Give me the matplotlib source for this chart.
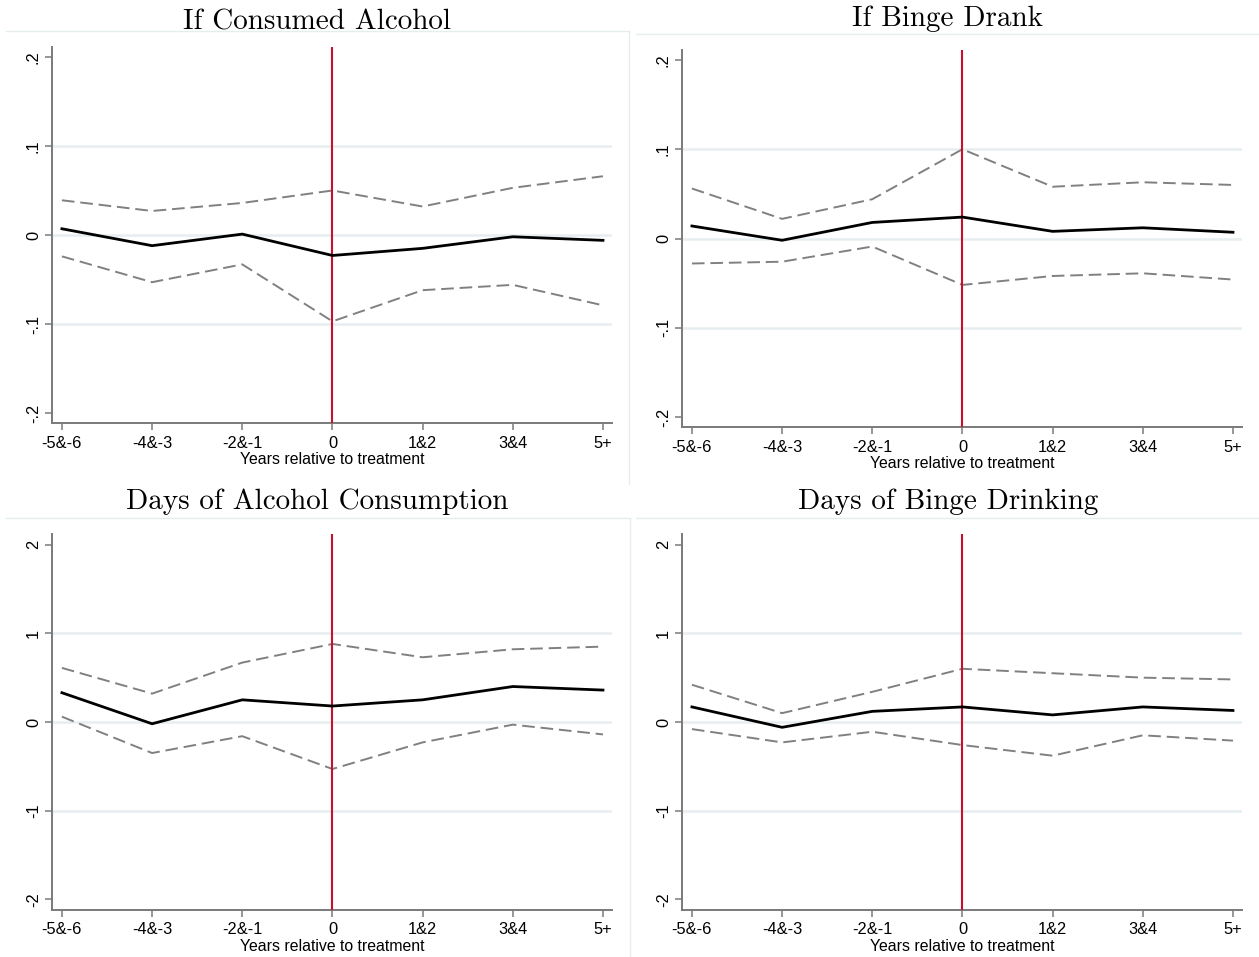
import matplotlib
matplotlib.use("Agg")
import matplotlib.pyplot as plt
from matplotlib.lines import Line2D
import numpy as np

W, H = 1259, 957

periods = ['-5&-6', '-4&-3', '-2&-1', '0', '1&2', '3&4', '5+']

# If Consumed Alcohol
cons_est = [0.007, -0.012, 0.001, -0.023, -0.015, -0.002, -0.006]
cons_hi = [0.039, 0.027, 0.036, 0.050, 0.032, 0.053, 0.066]
cons_lo = [-0.024, -0.053, -0.033, -0.097, -0.062, -0.056, -0.079]

# If Binge Drank
binge_est = [0.014, -0.002, 0.018, 0.024, 0.008, 0.012, 0.007]
binge_hi = [0.056, 0.022, 0.044, 0.100, 0.058, 0.063, 0.060]
binge_lo = [-0.028, -0.026, -0.009, -0.052, -0.042, -0.039, -0.046]

# Days of Alcohol Consumption
days_est = [0.33, -0.02, 0.25, 0.18, 0.25, 0.40, 0.36]
days_hi = [0.61, 0.32, 0.67, 0.88, 0.73, 0.82, 0.85]
days_lo = [0.06, -0.35, -0.16, -0.53, -0.23, -0.03, -0.14]

# Days of Binge Drinking
dbinge_est = [0.17, -0.06, 0.12, 0.17, 0.08, 0.17, 0.13]
dbinge_hi = [0.42, 0.10, 0.34, 0.60, 0.55, 0.50, 0.48]
dbinge_lo = [-0.08, -0.23, -0.11, -0.26, -0.38, -0.15, -0.21]

small_ticks = [-0.2, -0.1, 0, 0.1, 0.2]
small_labels = ['-.2', '-.1', '0', '.1', '.2']
big_ticks = [-2, -1, 0, 1, 2]
big_labels = ['-2', '-1', '0', '1', '2']

GRID = '#e6eef0'
SPINE = '#7a7a7a'
RED = '#c8102e'
BORDER = '#e6edef'

plt.rcParams['font.family'] = ['Liberation Sans', 'DejaVu Sans']

fig = plt.figure(figsize=(W / 100, H / 100), dpi=100)


def px_axes(left, top, right, bottom):
    return fig.add_axes([left / W, 1 - bottom / H, (right - left) / W, (bottom - top) / H])


def panel(box, title, title_xy, est, hi, lo, ticks, labels, ylim):
    ax = px_axes(*box)
    x = np.arange(len(periods))
    for t in ticks:
        if t not in (ticks[0], ticks[-1]):
            ax.axhline(t, color=GRID, lw=1.8, zorder=0)
    ax.axvline(3, color=RED, lw=1.5, zorder=3)
    ax.plot(x, hi, color='#808080', lw=1.4, dashes=(6.5, 3), zorder=2)
    ax.plot(x, lo, color='#808080', lw=1.4, dashes=(6.5, 3), zorder=2)
    ax.plot(x, est, color='black', lw=2.0, zorder=4)
    ax.set_xlim(-0.11, 6.10)
    ax.set_ylim(*ylim)
    ax.set_xticks(x, labels=periods, fontsize=11.8)
    ax.set_yticks(ticks, labels=labels, fontsize=11.8)
    for lab in ax.get_yticklabels():
        lab.set_rotation(90)
        lab.set_va('center')
    ax.tick_params(axis='both', color=SPINE, length=5, width=1.1)
    ax.tick_params(axis='x', pad=4)
    ax.tick_params(axis='y', pad=3)
    ax.set_xlabel('Years relative to treatment', fontsize=11.4, labelpad=1)
    for s in ('top', 'right'):
        ax.spines[s].set_visible(False)
    for s in ('left', 'bottom'):
        ax.spines[s].set_color(SPINE)
        ax.spines[s].set_linewidth(1.4)
    fig.text(title_xy[0] / W, 1 - title_xy[1] / H, title, family='cmr10',
             fontsize=21, ha='center', va='center')
    return ax


panel((52, 47, 612, 423), 'If Consumed Alcohol', (317, 22),
      cons_est, cons_hi, cons_lo, small_ticks, small_labels, (-0.2112, 0.2112))
panel((682, 50, 1242, 427), 'If Binge Drank', (948, 19),
      binge_est, binge_hi, binge_lo, small_ticks, small_labels, (-0.2112, 0.2112))
panel((52, 534, 612, 910), 'Days of Alcohol Consumption', (317, 502),
      days_est, days_hi, days_lo, big_ticks, big_labels, (-2.12, 2.12))
panel((682, 534, 1242, 910), 'Days of Binge Drinking', (948, 502),
      dbinge_est, dbinge_hi, dbinge_lo, big_ticks, big_labels, (-2.12, 2.12))


def fig_line(x0, y0, x1, y1):
    fig.add_artist(Line2D([x0 / W, x1 / W], [1 - y0 / H, 1 - y1 / H],
                          color=BORDER, lw=1.0))


# faint graph-region borders
fig_line(6, 31, 629, 31)
fig_line(629, 31, 629, 484)
fig_line(636, 34, 1259, 34)
fig_line(6, 518, 630, 518)
fig_line(630, 518, 630, 957)
fig_line(636, 518, 1259, 518)

fig.savefig('out.png', dpi=100, facecolor='white')
